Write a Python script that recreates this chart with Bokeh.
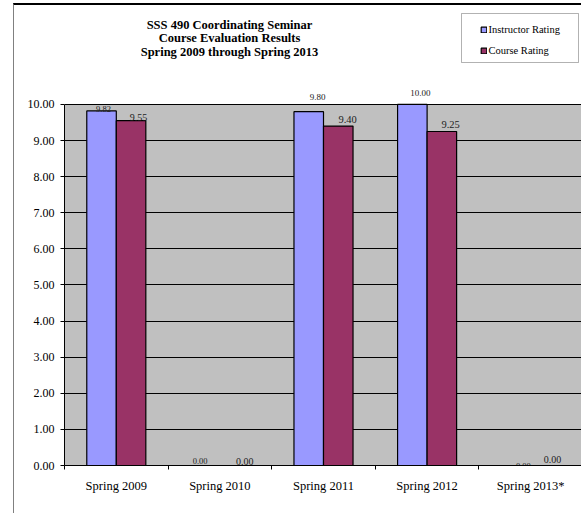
import numpy as np
from bokeh.plotting import figure
from bokeh.models import (ColumnDataSource, FixedTicker, NumeralTickFormatter, Range1d,
                          Label, Legend, LegendItem, BoxAnnotation)
from bokeh.core.properties import value
from bokeh.embed import file_html
from bokeh.resources import INLINE

# ---- data ----
categories = ["Spring 2009", "Spring 2010", "Spring 2011", "Spring 2012", "Spring 2013*"]
instructor_rating = [9.82, 0.00, 9.80, 10.00, 0.00]
course_rating = [9.55, 0.00, 9.40, 9.25, 0.00]
y_ticks = [0, 1, 2, 3, 4, 5, 6, 7, 8, 9, 10]
title_lines = ["SSS 490 Coordinating Seminar", "Course Evaluation Results",
               "Spring 2009 through Spring 2013"]

# ---- styling ----
FONT = "Liberation Serif"
BLUE = "#9999FF"
RED = "#993366"
GREY = "#C0C0C0"
BAR_W = 0.285
DODGE = 0.1425
Y_MAX = 10
Y_VIEW_TOP = 12.74   # extra headroom in the frame for title / legend

# label nudges (pixels) and sizes, per bar
inst_dx = [2, -5, 9, 8, 7.5]
inst_dy = [-1.5, -5, -15, -11, 0]
inst_fs = ["8.5px", "8.5px", "9px", "9px", "8.5px"]
course_dx = [7.5, 10, 9.3, 8.7, 7]
course_dy = [-3.5, -4, -7, -7.5, -6]
course_fs = ["10px", "10px", "10.5px", "10.5px", "10px"]

n = len(categories)
xc = np.arange(n) + 0.5

p = figure(width=568, height=510, output_backend="svg", toolbar_location=None,
           x_range=Range1d(0, n), y_range=Range1d(0, Y_VIEW_TOP),
           min_border_left=50, min_border_right=0, min_border_top=0, min_border_bottom=50)
p.background_fill_color = "white"
p.border_fill_color = "white"
p.outline_line_color = None
p.styles = {"margin-left": "13px", "margin-top": "3px",
            "border-left": "1px solid #808080", "border-top": "2px solid #000000"}

# grey plot area
p.add_layout(BoxAnnotation(left=0, right=n, bottom=0, top=Y_MAX, fill_color=GREY,
                           fill_alpha=1, line_color=None, level="image"))

src_i = ColumnDataSource(dict(x=xc - DODGE, top=instructor_rating,
                              txt=["%.2f" % v for v in instructor_rating],
                              dx=inst_dx, dy=inst_dy, fs=inst_fs))
src_c = ColumnDataSource(dict(x=xc + DODGE, top=course_rating,
                              txt=["%.2f" % v for v in course_rating],
                              dx=course_dx, dy=course_dy, fs=course_fs))

r_i = p.vbar(x="x", top="top", bottom=0, width=BAR_W, source=src_i,
             fill_color=BLUE, line_color="black", line_width=1.2)
r_c = p.vbar(x="x", top="top", bottom=0, width=BAR_W, source=src_c,
             fill_color=RED, line_color="black", line_width=1.2)

for src in (src_i, src_c):
    p.text(x="x", y="top", text="txt", source=src, x_offset="dx", y_offset="dy",
           text_font=value(FONT), text_font_size="fs", text_align="center",
           text_baseline="alphabetic", text_color="#222222")

# axes
p.xgrid.visible = False
p.ygrid.ticker = FixedTicker(ticks=y_ticks)
p.ygrid.grid_line_color = "black"
p.ygrid.grid_line_width = 1

p.yaxis.ticker = FixedTicker(ticks=y_ticks)
p.yaxis.bounds = (0, Y_MAX)
p.yaxis.formatter = NumeralTickFormatter(format="0.00")
p.yaxis.major_label_text_font = FONT
p.yaxis.major_label_text_font_size = "12px"
p.yaxis.major_label_text_color = "black"
p.yaxis.major_tick_out = 4
p.yaxis.major_tick_in = 0
p.yaxis.minor_tick_line_color = None
p.yaxis.major_label_standoff = 6
p.yaxis.axis_line_color = "black"

p.xaxis.ticker = FixedTicker(ticks=list(xc), minor_ticks=list(range(n + 1)))
p.xaxis.major_label_overrides = {float(x): c for x, c in zip(xc, categories)}
p.xaxis.major_label_text_font = FONT
p.xaxis.major_label_text_font_size = "12.5px"
p.xaxis.major_label_text_color = "black"
p.xaxis.major_tick_out = 0
p.xaxis.major_tick_in = 0
p.xaxis.minor_tick_out = 4
p.xaxis.minor_tick_in = 0
p.xaxis.minor_tick_line_color = "black"
p.xaxis.major_label_standoff = 9
p.xaxis.axis_line_color = "black"

# title (frame-relative screen units)
for i, t in enumerate(title_lines):
    p.add_layout(Label(x=165, y=441 - 13.5 * i, x_units="screen", y_units="screen",
                       text=t, text_font=FONT, text_font_size="12.5px",
                       text_font_style="bold", text_align="center",
                       text_baseline="alphabetic", text_color="black"))

# legend box + legend
p.add_layout(BoxAnnotation(left=397, right=514, top=452, bottom=403,
                           left_units="screen", right_units="screen",
                           top_units="screen", bottom_units="screen",
                           fill_color="white", fill_alpha=1, line_color="black",
                           line_width=1))
legend = Legend(items=[LegendItem(label="Instructor Rating", renderers=[r_i]),
                       LegendItem(label="Course Rating", renderers=[r_c])],
                location=(415.5, 409), orientation="vertical",
                glyph_width=7, glyph_height=7, label_standoff=2, label_height=12,
                spacing=9, padding=0, margin=0, border_line_color=None,
                background_fill_alpha=0, label_text_font=FONT,
                label_text_font_size="10.5px", label_text_color="black")
p.add_layout(legend)

open("out.html", "w").write(file_html(p, INLINE))
